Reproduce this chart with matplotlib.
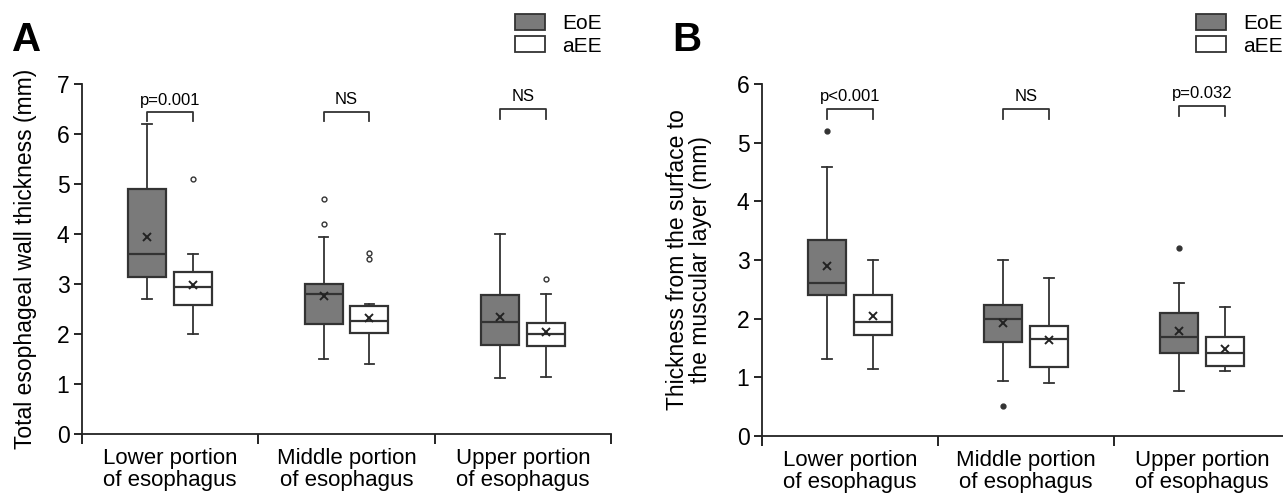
import matplotlib
matplotlib.use("Agg")
import matplotlib.pyplot as plt
from matplotlib.patches import Patch

plt.rcParams['font.family'] = ['Liberation Sans', 'DejaVu Sans']

categories = ["Lower portion\nof esophagus", "Middle portion\nof esophagus", "Upper portion\nof esophagus"]
groups = ["EoE", "aEE"]

# Panel A: total esophageal wall thickness (mm), order: lower, middle, upper
a_eoe_whislo = [2.7, 1.5, 1.13]
a_eoe_q1 = [3.15, 2.2, 1.79]
a_eoe_med = [3.6, 2.8, 2.25]
a_eoe_q3 = [4.9, 3.0, 2.79]
a_eoe_whishi = [6.2, 3.95, 4.0]
a_eoe_mean = [3.95, 2.76, 2.34]
a_eoe_fliers = [[], [4.2, 4.7], []]

a_aee_whislo = [2.0, 1.4, 1.15]
a_aee_q1 = [2.59, 2.02, 1.76]
a_aee_med = [2.95, 2.27, 2.0]
a_aee_q3 = [3.25, 2.57, 2.23]
a_aee_whishi = [3.6, 2.6, 2.8]
a_aee_mean = [2.98, 2.33, 2.05]
a_aee_fliers = [[5.1], [3.5, 3.62], [3.1]]

a_labels = ["p=0.001", "NS", "NS"]

# Panel B: thickness from the surface to the muscular layer (mm)
b_eoe_whislo = [1.31, 0.94, 0.76]
b_eoe_q1 = [2.4, 1.61, 1.41]
b_eoe_med = [2.6, 2.0, 1.68]
b_eoe_q3 = [3.34, 2.23, 2.1]
b_eoe_whishi = [4.59, 3.0, 2.6]
b_eoe_mean = [2.9, 1.92, 1.79]
b_eoe_fliers = [[5.2], [0.51], [3.2]]

b_aee_whislo = [1.14, 0.91, 1.11]
b_aee_q1 = [1.73, 1.17, 1.2]
b_aee_med = [1.95, 1.66, 1.42]
b_aee_q3 = [2.4, 1.87, 1.69]
b_aee_whishi = [3.0, 2.7, 2.2]
b_aee_mean = [2.05, 1.63, 1.48]
b_aee_fliers = [[], [], []]

b_labels = ["p<0.001", "NS", "p=0.032"]


def make_stats(whislo, q1, med, q3, whishi, mean, fliers):
    return [dict(whislo=whislo[i], q1=q1[i], med=med[i], q3=q3[i], whishi=whishi[i],
                 mean=mean[i], fliers=fliers[i]) for i in range(len(med))]


def draw_panel(ax, eoe, aee, flier_face):
    off = 0.13
    w = 0.215
    for stats, face, dx in [(eoe, "#7a7a7a", -off), (aee, "white", off)]:
        pos = [i + dx for i in range(len(stats))]
        ax.bxp(stats, positions=pos, widths=w, patch_artist=True, showmeans=True,
               showfliers=True, capwidths=0.055,
               boxprops=dict(facecolor=face, edgecolor="#333333", linewidth=1.6),
               medianprops=dict(color="#333333", linewidth=1.6),
               whiskerprops=dict(color="#333333", linewidth=1.3),
               capprops=dict(color="#333333", linewidth=1.3),
               meanprops=dict(marker="x", markeredgecolor="#222222", markersize=5.5,
                              markeredgewidth=1.4),
               flierprops=dict(marker="o", markersize=3.5, markerfacecolor=flier_face,
                               markeredgecolor="#333333", markeredgewidth=1.0))
    ax.set_xlim(-0.5, 2.5)
    ax.set_xticks([-0.5, 0.5, 1.5, 2.5])
    ax.set_xticklabels([])
    ax.set_xticks([0, 1, 2], minor=True)
    ax.set_xticklabels(categories, minor=True, fontsize=16, linespacing=1.1)
    ax.tick_params(axis="x", which="major", length=7, width=1.2, direction="out")
    ax.tick_params(axis="x", which="minor", length=0, pad=10)
    ax.tick_params(axis="y", length=6, width=1.2, labelsize=16.5, pad=3)
    for s in ["top", "right"]:
        ax.spines[s].set_visible(False)
    for s in ["left", "bottom"]:
        ax.spines[s].set_linewidth(1.3)
        ax.spines[s].set_color("#222222")


def draw_bracket(ax, i, y, drop, label, ty):
    x0, x1 = i - 0.13, i + 0.13
    ax.plot([x0, x0, x1, x1], [y - drop, y, y, y - drop], color="#333333", lw=1.3)
    ax.text(i, ty, label, ha="center", va="center", fontsize=12)


fig = plt.figure(figsize=(12.83, 4.95), dpi=100)

axA = fig.add_axes([82 / 1283, 61 / 495, 529 / 1283, 350 / 495])
draw_panel(axA, make_stats(a_eoe_whislo, a_eoe_q1, a_eoe_med, a_eoe_q3, a_eoe_whishi, a_eoe_mean, a_eoe_fliers),
           make_stats(a_aee_whislo, a_aee_q1, a_aee_med, a_aee_q3, a_aee_whishi, a_aee_mean, a_aee_fliers), "white")
axA.set_ylim(0, 7)
axA.set_yticks(range(0, 8))
axA.set_ylabel("Total esophageal wall thickness (mm)", fontsize=16.5, labelpad=14)
draw_bracket(axA, 0, 6.45, 0.19, a_labels[0], 6.68)
draw_bracket(axA, 1, 6.45, 0.19, a_labels[1], 6.68)
draw_bracket(axA, 2, 6.5, 0.19, a_labels[2], 6.75)

axB = fig.add_axes([762 / 1283, 59 / 495, 528 / 1283, 352 / 495])
draw_panel(axB, make_stats(b_eoe_whislo, b_eoe_q1, b_eoe_med, b_eoe_q3, b_eoe_whishi, b_eoe_mean, b_eoe_fliers),
           make_stats(b_aee_whislo, b_aee_q1, b_aee_med, b_aee_q3, b_aee_whishi, b_aee_mean, b_aee_fliers), "#333333")
axB.set_ylim(0, 6)
axB.set_yticks(range(0, 7))
axB.set_ylabel("Thickness from the surface to\nthe muscular layer (mm)", fontsize=16.5, labelpad=18,
               linespacing=1.0)
draw_bracket(axB, 0, 5.57, 0.16, b_labels[0], 5.78)
draw_bracket(axB, 1, 5.57, 0.16, b_labels[1], 5.78)
draw_bracket(axB, 2, 5.62, 0.16, b_labels[2], 5.84)

# panel letters
fig.text(12 / 1283, 1 - 40 / 495, "A", fontsize=29, fontweight="bold", va="center",
         family=["Liberation Sans Narrow", "Liberation Sans"])
fig.text(672 / 1283, 1 - 40 / 495, "B", fontsize=29, fontweight="bold", va="center",
         family=["Liberation Sans Narrow", "Liberation Sans"])

handles = [Patch(facecolor="#7a7a7a", edgecolor="#333333", linewidth=1.3),
           Patch(facecolor="white", edgecolor="#333333", linewidth=1.3)]
for xl in [515, 1196]:
    fig.legend(handles, groups, loc="upper left", bbox_to_anchor=(xl / 1283, 1 - 14 / 495),
               frameon=False, fontsize=15, handlelength=1.45, handleheight=0.8,
               handletextpad=0.8, labelspacing=0.15, borderpad=0, borderaxespad=0)

fig.savefig("out.png", dpi=100)
